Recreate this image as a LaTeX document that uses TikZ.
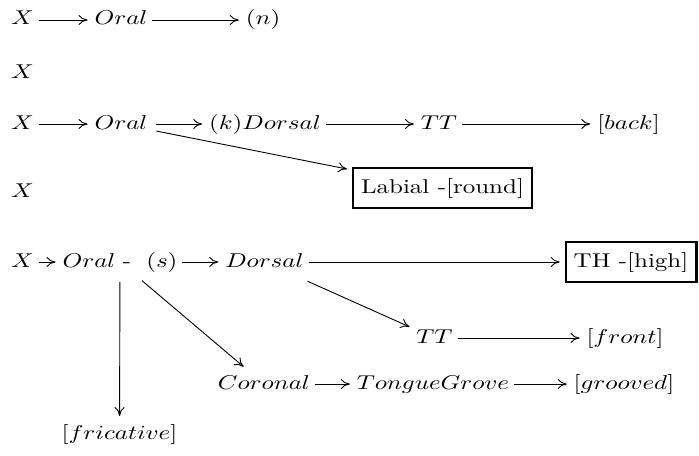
\documentclass[tikz,border=0pt]{standalone}
\usepackage{graphicx}
\usetikzlibrary{arrows.meta}
\newcommand{\mt}[1]{\scalebox{1.25}[1]{$#1$}}
\newcommand{\rt}[1]{\scalebox{1.25}[1]{#1}}
\begin{document}
\begin{tikzpicture}[x=0.5pt,y=-0.5pt,
  lbl/.style={inner xsep=2.5pt, inner ysep=3pt, text height=7.5pt, text depth=2.5pt, outer sep=0pt},
  boxed/.style={draw, line width=1.2pt, inner xsep=4pt, inner ysep=5pt, text height=7.5pt, text depth=2.5pt, outer sep=2pt},
  ar/.style={-{Computer Modern Rightarrow[length=4.5pt,width=5pt]}, line width=0.45pt, shorten >=1pt}]
\useasboundingbox (0,0) rectangle (699,455);
\node[lbl] (x1) at (22.5,20) {\mt{X}};
\node[lbl] (o1) at (121,20) {\mt{Oral}};
\node[lbl] (n1) at (263,20) {\mt{(n)}};
\node[lbl] (x2) at (22.5,73) {\mt{X}};
\node[lbl] (x3) at (22.5,124) {\mt{X}};
\node[lbl] (o3) at (121,124) {\mt{Oral}};
\node[lbl] (kd) at (265,124) {\mt{(k)Dorsal}};
\node[lbl] (tt3) at (439,124) {\mt{TT}};
\node[lbl] (bk) at (628.5,124) {\mt{[back]}};
\node[lbl] (x4) at (22.5,192) {\mt{X}};
\node[boxed] (lab) at (442.5,188) {\rt{Labial -[round]}};
\node[lbl] (x5) at (22.5,262) {\mt{X}};
\node[lbl] (e5) at (120,262) {\mt{Oral}\rt{\hspace{0.3em}-\hspace{0.6em}}\mt{(s)}};
\node[lbl] (d5) at (264.5,262) {\mt{Dorsal}};
\node[boxed] (th) at (631,262) {\rt{TH -[high]}};
\node[lbl] (tt6) at (434.5,338) {\mt{TT}};
\node[lbl] (fr) at (625,338) {\mt{[front]}};
\node[lbl] (co) at (264,384) {\mt{Coronal}};
\node[lbl] (tg) at (433,384) {\mt{TongueGrove}};
\node[lbl] (gr) at (624,384) {\mt{[grooved]}};
\node[lbl] (fc) at (119.5,434) {\mt{[fricative]}};
\draw[ar] (x1) -- (o1);
\draw[ar] (o1) -- (n1);
\draw[ar] (x3) -- (o3);
\draw[ar, shorten <=2pt] (o3) -- (kd);
\draw[ar] (kd) -- (tt3);
\draw[ar] (tt3) -- (bk);
\draw[ar, shorten <=2pt] (o3) -- (lab);
\draw[ar] (x5) -- (e5);
\draw[ar] (e5) -- (d5);
\draw[ar] (d5) -- (th);
\draw[ar, shorten <=4pt] (d5) -- (tt6);
\draw[ar] (tt6) -- (fr);
\draw[ar, shorten <=2pt] (e5) -- (co);
\draw[ar] (co) -- (tg);
\draw[ar] (tg) -- (gr);
\draw[ar, shorten <=2pt] (e5) -- (fc);
\end{tikzpicture}
\end{document}
